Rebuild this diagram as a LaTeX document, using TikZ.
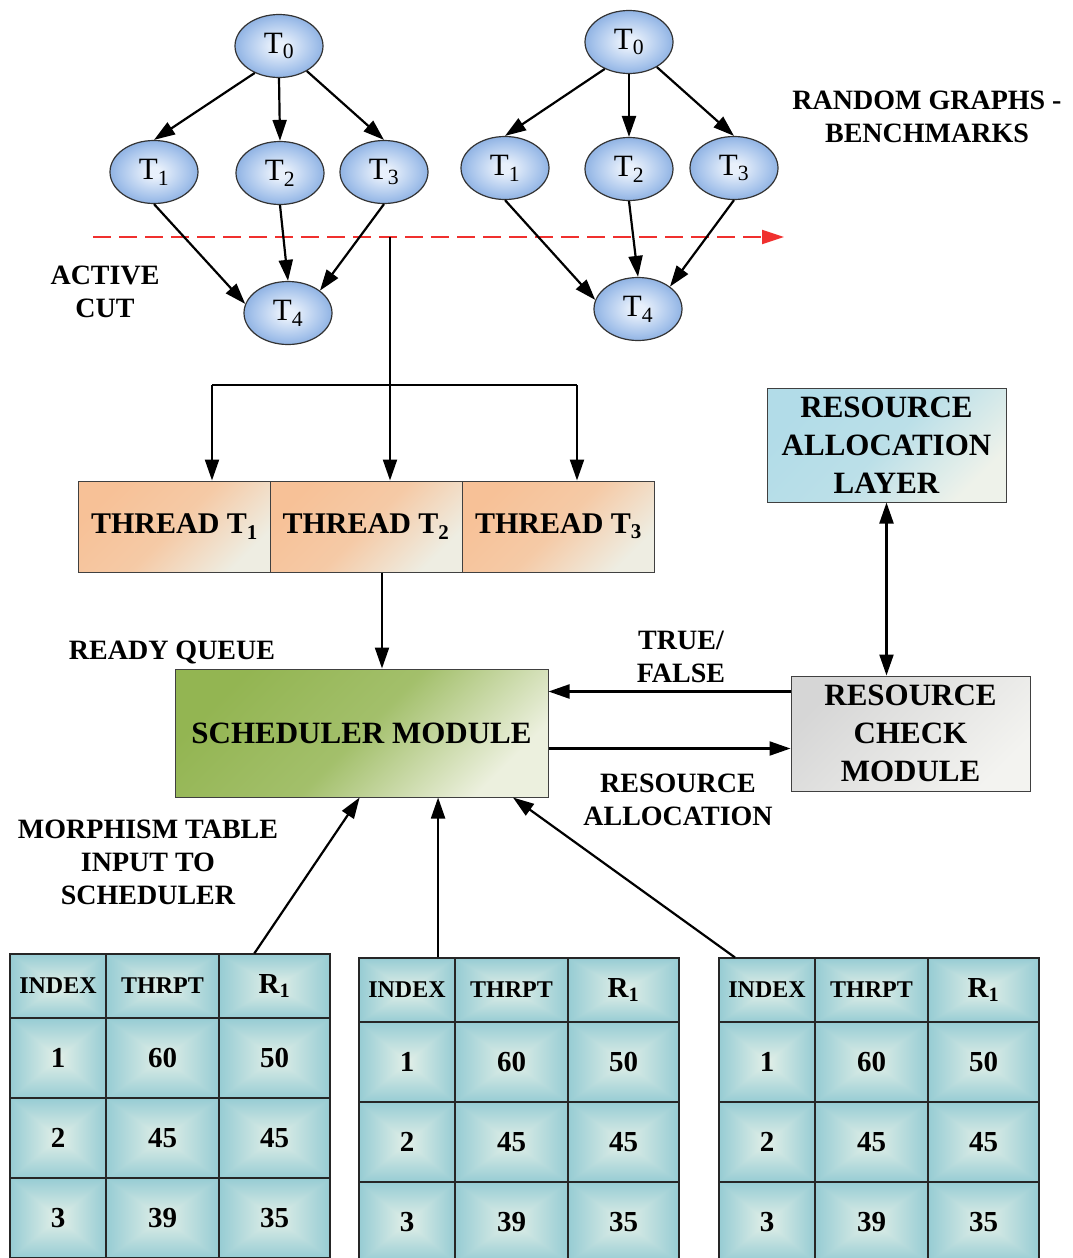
\documentclass[tikz,border=0pt]{standalone}
\usepackage{fontspec}
\setmainfont{Liberation Serif}
\usetikzlibrary{arrows.meta,calc,shapes.geometric}

\definecolor{ballin}{HTML}{E8F0FB}
\definecolor{ballmid}{HTML}{A6C3EB}
\definecolor{ballout}{HTML}{6694D4}
\definecolor{thrA}{HTML}{F7C197}
\definecolor{thrB}{HTML}{EEEDE2}
\definecolor{schA}{HTML}{93B552}
\definecolor{schB}{HTML}{ECF0DE}
\definecolor{ralA}{HTML}{B2DCE8}
\definecolor{ralB}{HTML}{EEF2EA}
\definecolor{rcmA}{HTML}{D6D6D6}
\definecolor{rcmB}{HTML}{F3F3F0}
\definecolor{cutred}{HTML}{F0302E}

% task nodes: light centre fading to blue rim
\pgfdeclareradialshading{taskball}{\pgfpoint{0bp}{0bp}}{color(0bp)=(ballin); color(4bp)=(ballin); color(20bp)=(ballmid); color(35bp)=(ballout); color(50bp)=(ballout)}
% table cells: pyramid ("pillow") shading, light centre, teal edges
\pgfdeclarefunctionalshading{pillow}{\pgfpoint{-50bp}{-50bp}}{\pgfpoint{50bp}{50bp}}{}{abs exch abs 2 copy lt {exch} if pop 50 div dup -0.60 mul 0.89 add exch dup -0.28 mul 0.94 add exch -0.16 mul 0.91 add}

\newcommand{\hdrfont}{\bfseries\fontsize{24}{24}\selectfont}
\newcommand{\numfont}{\bfseries\fontsize{29}{29}\selectfont}

% one morphism table: #1 left x, #2 top y, #3 node-name prefix
\newcommand{\morphtab}[3]{%
  \node[cell, minimum width=96pt, minimum height=64pt, font=\hdrfont] (#3-00) at (#1+48,#2+32) {INDEX};
  \node[cell, minimum width=113pt, minimum height=64pt, font=\hdrfont] (#3-01) at (#1+152.5,#2+32) {THRPT};
  \node[cell, minimum width=111pt, minimum height=64pt, font=\numfont] (#3-02) at (#1+264.5,#2+32) {R\textsubscript{1}};
  \foreach \i/\a/\b/\c in {1/1/60/50, 2/2/45/45, 3/3/39/35}{
    \node[cell, minimum width=96pt, minimum height=80pt, font=\numfont] (#3-\i0) at (#1+48,#2+24+80*\i) {\a};
    \node[cell, minimum width=113pt, minimum height=80pt, font=\numfont] (#3-\i1) at (#1+152.5,#2+24+80*\i) {\b};
    \node[cell, minimum width=111pt, minimum height=80pt, font=\numfont] (#3-\i2) at (#1+264.5,#2+24+80*\i) {\c};
  }%
}

\begin{document}
\begin{tikzpicture}[x=1pt,y=-1pt,
  task/.style={ellipse, draw=black!80, line width=1.2pt, shading=taskball,
    minimum width=88pt, minimum height=63pt, inner sep=0pt,
    font=\fontsize{31}{31}\selectfont},
  box/.style={rectangle, draw=black!75, line width=1pt, inner sep=0pt},
  cell/.style={rectangle, draw=black!85, line width=1.1pt, inner sep=0pt, shading=pillow},
  lab/.style={font=\bfseries\fontsize{28}{33}\selectfont, align=center, inner sep=0pt},
  wire/.style={draw=black, line width=2.2pt},
  arr/.style={wire, -{Triangle[length=21pt,width=14pt]}},
  arrboth/.style={wire, {Triangle[length=21pt,width=14pt]}-{Triangle[length=21pt,width=14pt]}},
  cutline/.style={draw=cutred, line width=2.2pt, dash pattern=on 18pt off 8pt,
    -{Triangle[length=22pt,width=14pt]}}
]
\useasboundingbox (0,0) rectangle (1072,1258);
\clip (0,0) rectangle (1072,1258);

% ---------- task graphs ----------
\node[task] (a0) at (279,46)  {T\textsubscript{0}};
\node[task] (a1) at (154,172) {T\textsubscript{1}};
\node[task] (a2) at (280,173) {T\textsubscript{2}};
\node[task] (a3) at (384,172) {T\textsubscript{3}};
\node[task] (a4) at (288,313) {T\textsubscript{4}};

\node[task] (b0) at (629,42)  {T\textsubscript{0}};
\node[task] (b1) at (505,168) {T\textsubscript{1}};
\node[task] (b2) at (629,169) {T\textsubscript{2}};
\node[task] (b3) at (734,168) {T\textsubscript{3}};
\node[task] (b4) at (638,309) {T\textsubscript{4}};

% active cut
\coordinate (cutL) at (93,237);
\coordinate (cutR) at (784,237);
\draw[cutline] (cutL) -- (cutR);

\foreach \g in {a,b}{
  \draw[arr] (\g0.228) -- (\g1.north);
  \draw[arr] (\g0.south) -- (\g2.north);
  \draw[arr] (\g0.318) -- (\g3.north);
  \draw[arr] (\g1.south) -- (\g4.168);
  \draw[arr] (\g2.south) -- (\g4.north);
  \draw[arr] (\g3.south) -- (\g4.35);
}

\node[lab] (rg) at (927,116.5) {RANDOM GRAPHS -\\BENCHMARKS};
\node[lab] (ac) at (105,292) {ACTIVE\\CUT};

% ---------- threads ----------
\node[box, top color=thrA, bottom color=thrB, middle color=thrA!80!thrB, shading angle=45,
  minimum width=192pt, minimum height=91pt,
  font=\bfseries\fontsize{30}{30}\selectfont] (thr1) at (174.5,526.5) {THREAD T\textsubscript{1}};
\node[box, top color=thrA, bottom color=thrB, middle color=thrA!80!thrB, shading angle=45,
  minimum width=192pt, minimum height=91pt,
  font=\bfseries\fontsize{30}{30}\selectfont] (thr2) at (366,526.5) {THREAD T\textsubscript{2}};
\node[box, top color=thrA, bottom color=thrB, middle color=thrA!80!thrB, shading angle=45,
  minimum width=192pt, minimum height=91pt,
  font=\bfseries\fontsize{30}{30}\selectfont] (thr3) at (558.5,526.5) {THREAD T\textsubscript{3}};

% dispatch from the cut to the threads
\coordinate (tap) at (390,237);
\coordinate (split) at (390,385);
\coordinate (brL) at (212,385);
\coordinate (brR) at (577,385);
\draw[wire] (tap) -- (split);
\draw[wire] (brL) -- (brR);
\draw[arr] (brL) -- (brL |- thr1.north);
\draw[arr] (split) -- (split |- thr2.north);
\draw[arr] (brR) -- (brR |- thr3.north);

% ---------- scheduler and resources ----------
\node[box, top color=schA, bottom color=schB, middle color=schA!82!schB, shading angle=45,
  minimum width=373pt, minimum height=128pt,
  font=\bfseries\fontsize{31}{31}\selectfont] (sched) at (361.5,733) {SCHEDULER MODULE};
\node[lab] (rq) at (172,652) {READY QUEUE};

\coordinate (qout) at ($(thr2.south)+(16,0)$);
\draw[arr] (qout) -- (qout |- sched.north);

\node[box, top color=ralA, bottom color=ralB, middle color=ralA!85!ralB, shading angle=45,
  minimum width=239pt, minimum height=114pt, align=center,
  font=\bfseries\fontsize{31}{38}\selectfont] (ral) at (886.5,445) {RESOURCE\\ALLOCATION\\LAYER};
\node[box, top color=rcmA, bottom color=rcmB, shading angle=45,
  minimum width=239pt, minimum height=115pt, align=center,
  font=\bfseries\fontsize{31}{38}\selectfont] (rcm) at (910.5,733.5) {RESOURCE\\CHECK\\MODULE};

\draw[arrboth] (ral.south) -- (ral.south |- rcm.north);

\coordinate (tf) at ($(rcm.north west)+(0,16)$);
\draw[arr] (tf) -- (tf -| sched.east);
\coordinate (ra) at ($(sched.north east)+(0,80)$);
\draw[arr] (ra) -- (ra -| rcm.west);

\node[lab] (tfl) at (681,656.5) {TRUE/\\FALSE};
\node[lab] (ral2) at (678,800) {RESOURCE\\ALLOCATION};

% ---------- morphism tables ----------
\node[lab] (mt) at (148,862.5) {MORPHISM TABLE\\INPUT TO\\SCHEDULER};

\morphtab{10}{954}{ta}
\morphtab{359}{958}{tb}
\morphtab{719}{958}{tc}

\coordinate (inA) at ($(ta-02.north west)!0.32!(ta-02.north east)$);
\coordinate (inB) at ($(tb-00.north west)!0.82!(tb-00.north east)$);
\coordinate (inC) at ($(tc-00.north west)!0.17!(tc-00.north east)$);
\coordinate (enA) at ($(sched.south west)!0.495!(sched.south east)$);
\coordinate (enC) at ($(sched.south west)!0.905!(sched.south east)$);
\draw[arr] (inA) -- (enA);
\draw[arr] (inB) -- (inB |- sched.south);
\draw[arr] (inC) -- (enC);
\end{tikzpicture}
\end{document}
